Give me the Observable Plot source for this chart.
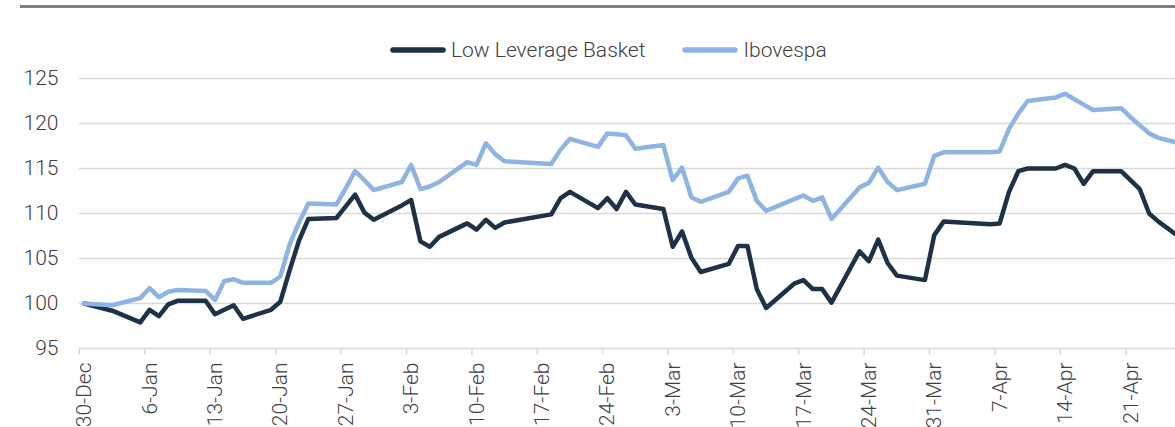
<!DOCTYPE html>
<html>
<head>
<meta charset="utf-8">
<script src="https://cdn.jsdelivr.net/npm/d3@7"></script>
<script src="https://cdn.jsdelivr.net/npm/@observablehq/plot@0.6"></script>
<style>
  html, body { margin: 0; padding: 0; background: #fff; overflow: hidden; width: 1175px; height: 427px; }
  #wrap { position: relative; width: 1175px; height: 427px; overflow: hidden; font-family: Roboto, sans-serif; color: #404040; }
  #header { position: relative; width: 1175px; height: 60px; }
  #rule { position: absolute; left: 20px; top: 5px; width: 1160px; height: 3px; background: #7f7f7f; }
  #legend { position: absolute; left: 390px; top: 36px; height: 28px; display: flex; align-items: center; font-size: 21px; font-weight: 300; white-space: nowrap; }
  #legend .item { display: flex; align-items: center; margin-right: 37px; }
  #legend svg { margin-right: 5px; }
  #chart svg { overflow: visible; max-width: none; }
</style>
</head>
<body>
<div id="wrap">
  <div id="header">
    <div id="rule"></div>
    <div id="legend"></div>
  </div>
  <div id="chart"></div>
</div>
<script>
// ---- data ----
const seriesNames = ["Low Leverage Basket", "Ibovespa"];
const seriesColors = ["#1f3146", "#8db4e2"];
const dates = [
  "2024-12-31","2025-01-03","2025-01-06","2025-01-07","2025-01-08","2025-01-09","2025-01-10",
  "2025-01-13","2025-01-14","2025-01-15","2025-01-16","2025-01-17",
  "2025-01-20","2025-01-21","2025-01-22","2025-01-23","2025-01-24",
  "2025-01-27","2025-01-28","2025-01-29","2025-01-30","2025-01-31",
  "2025-02-03","2025-02-04","2025-02-05","2025-02-06","2025-02-07",
  "2025-02-10","2025-02-11","2025-02-12","2025-02-13","2025-02-14",
  "2025-02-19","2025-02-20","2025-02-21",
  "2025-02-24","2025-02-25","2025-02-26","2025-02-27","2025-02-28",
  "2025-03-03","2025-03-04","2025-03-05","2025-03-06","2025-03-07",
  "2025-03-10","2025-03-11","2025-03-12","2025-03-13","2025-03-14",
  "2025-03-17","2025-03-18","2025-03-19","2025-03-20","2025-03-21",
  "2025-03-24","2025-03-25","2025-03-26","2025-03-27","2025-03-28",
  "2025-03-31","2025-04-01","2025-04-02",
  "2025-04-07","2025-04-08","2025-04-09","2025-04-10","2025-04-11",
  "2025-04-14","2025-04-15","2025-04-16","2025-04-17","2025-04-18",
  "2025-04-21","2025-04-22","2025-04-23","2025-04-24","2025-04-25",
  "2025-04-28"
];
const lowLeverage = [
  100.0, 99.2, 97.9, 99.3, 98.6, 99.9, 100.3,
  100.3, 98.8, 99.3, 99.8, 98.3,
  99.3, 100.2, 103.7, 107.0, 109.4,
  109.5, 110.8, 112.1, 110.1, 109.3,
  110.9, 111.5, 106.9, 106.3, 107.4,
  108.9, 108.2, 109.3, 108.4, 109.0,
  109.9, 111.7, 112.4,
  110.6, 111.7, 110.5, 112.4, 111.0,
  110.5, 106.3, 108.0, 105.1, 103.5,
  104.4, 106.4, 106.4, 101.6, 99.5,
  102.2, 102.6, 101.6, 101.6, 100.1,
  105.8, 104.7, 107.1, 104.5, 103.1,
  102.6, 107.6, 109.1,
  108.8, 108.9, 112.4, 114.7, 115.0,
  115.0, 115.4, 115.0, 113.3, 114.7,
  114.7, 113.7, 112.7, 110.0, 109.1,
  106.8
];
const ibovespa = [
  100.0, 99.8, 100.6, 101.7, 100.7, 101.3, 101.5,
  101.4, 100.4, 102.5, 102.7, 102.3,
  102.3, 103.0, 106.6, 109.0, 111.1,
  111.0, 112.8, 114.7, 113.7, 112.6,
  113.5, 115.4, 112.7, 113.0, 113.5,
  115.7, 115.4, 117.8, 116.6, 115.8,
  115.5, 117.1, 118.3,
  117.4, 118.9, 118.8, 118.7, 117.2,
  117.6, 113.7, 115.1, 111.8, 111.3,
  112.4, 113.9, 114.2, 111.4, 110.3,
  111.6, 112.0, 111.4, 111.8, 109.4,
  112.9, 113.4, 115.1, 113.5, 112.6,
  113.3, 116.4, 116.8,
  116.8, 116.9, 119.4, 121.1, 122.5,
  122.9, 123.3, 122.7, 122.1, 121.5,
  121.7, 120.7, 119.8, 118.9, 118.4,
  117.6
];
const yTicks = [95, 100, 105, 110, 115, 120, 125];
const xTickDates = [
  "2024-12-30","2025-01-06","2025-01-13","2025-01-20","2025-01-27","2025-02-03","2025-02-10",
  "2025-02-17","2025-02-24","2025-03-03","2025-03-10","2025-03-17","2025-03-24","2025-03-31",
  "2025-04-07","2025-04-14","2025-04-21"
];

// ---- build table ----
const rows = [];
dates.forEach((d, i) => {
  rows.push({date: new Date(d), value: lowLeverage[i], series: seriesNames[0]});
  rows.push({date: new Date(d), value: ibovespa[i], series: seriesNames[1]});
});
const xTicks = xTickDates.map(d => new Date(d));
const fmt = d3.utcFormat("%-d-%b");

// ---- legend ----
const legend = document.getElementById("legend");
seriesNames.forEach((name, i) => {
  const item = document.createElement("div");
  item.className = "item";
  item.innerHTML = `<svg width="56" height="10"><line x1="3" y1="5" x2="53" y2="5" stroke="${seriesColors[i]}" stroke-width="5.5" stroke-linecap="round"/></svg><span>${name}</span>`;
  legend.appendChild(item);
});

// ---- chart ----
const chart = Plot.plot({
  width: 1200,
  height: 367,
  marginLeft: 79,
  marginRight: 0,
  marginTop: 18,
  marginBottom: 79,
  style: {fontFamily: "Roboto, sans-serif", fontSize: "21px", fontWeight: 300, color: "#404040", overflow: "visible", maxWidth: "none"},
  x: {type: "utc", domain: [new Date("2024-12-30"), new Date("2025-04-29")]},
  y: {domain: [95, 125]},
  color: {domain: seriesNames, range: seriesColors},
  marks: [
    Plot.ruleY(yTicks.filter(t => t > 95), {stroke: "#d9d9d9", strokeWidth: 1.5}),
    Plot.ruleY([95], {stroke: "#d9d9d9", strokeWidth: 1.5}),
    Plot.axisY({ticks: yTicks, tickSize: 0, tickPadding: 21, label: null}),
    Plot.axisX({ticks: xTicks, tickSize: 7, tickFormat: () => "", stroke: "#d9d9d9", strokeWidth: 1.5, label: null}),
    Plot.axisX({ticks: xTicks, tickSize: 0, tickPadding: 14, tickRotate: -90, tickFormat: fmt, dx: 5, label: null}),
    Plot.line(rows, {x: "date", y: "value", z: "series", stroke: "series", strokeWidth: 4.5, strokeLinejoin: "round", dx: -4.67})
  ]
});
document.getElementById("chart").appendChild(chart);
</script>
</body>
</html>
